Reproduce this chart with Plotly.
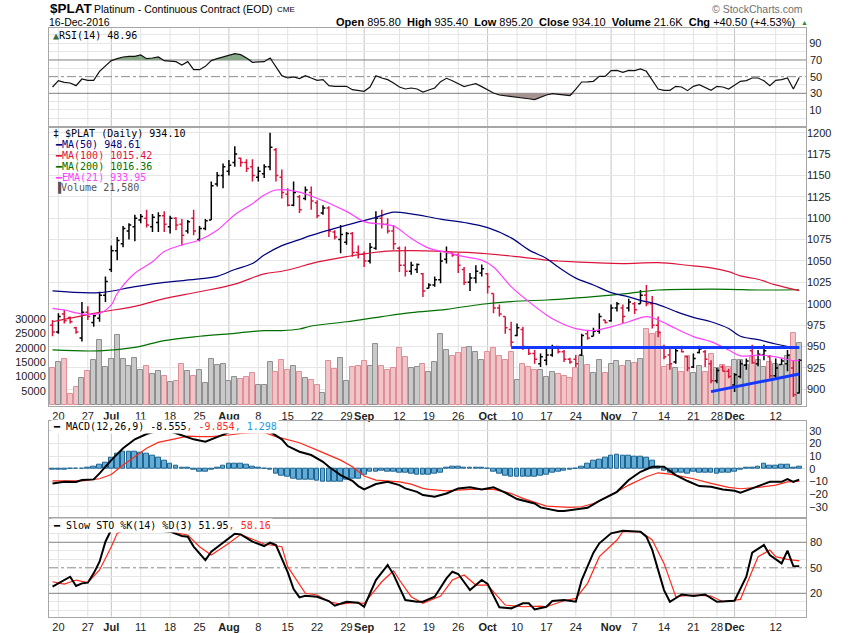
import numpy as np
import pandas as pd
import plotly.graph_objects as go

# ---- calendar -------------------------------------------------------------
HOLIDAYS = ["2016-07-04", "2016-09-05", "2016-11-24"]
TICK_DATES = ["2016-06-20", "2016-06-27", "2016-07-01", "2016-07-11", "2016-07-18",
              "2016-07-25", "2016-08-01", "2016-08-08", "2016-08-15", "2016-08-22",
              "2016-08-29", "2016-09-01", "2016-09-12", "2016-09-19", "2016-09-26",
              "2016-10-03", "2016-10-10", "2016-10-17", "2016-10-24", "2016-11-01",
              "2016-11-07", "2016-11-14", "2016-11-21", "2016-11-28", "2016-12-01",
              "2016-12-12"]
TICK_TEXT = ["20", "27", "Jul", "11", "18", "25", "Aug", "8", "15", "22", "29", "Sep",
             "12", "19", "26", "Oct", "10", "17", "24", "Nov", "7", "14", "21", "28",
             "Dec", "12"]

# ---- price bars (one per trading day) --------------------------------------
opens = [975, 967, 988, 984, 972, 960, 990, 978, 983, 1010, 1040, 1062, 1070, 1085, 1090,
         1098, 1100, 1090, 1095, 1103, 1090, 1100, 1093, 1085, 1100, 1075, 1088, 1098, 1140,
         1150, 1155, 1165, 1170, 1165, 1160, 1148, 1152, 1160, 1180, 1148, 1128, 1115, 1125,
         1123, 1130, 1118, 1106, 1112, 1084, 1075, 1072, 1082, 1060, 1058, 1050, 1065, 1100,
         1093, 1085, 1065, 1045, 1038, 1040, 1035, 1018, 1022, 1028, 1052, 1059, 1057, 1040,
         1025, 1030, 1036, 1035, 1012, 995, 985, 970, 963, 970, 948, 942, 930, 934, 940, 950,
         944, 935, 935, 940, 965, 962, 968, 981, 980, 995, 995, 995, 1000, 1000, 1010, 1000,
         975, 950, 940, 932, 948, 938, 926, 943, 944, 930, 910, 926, 921, 905, 915, 928, 945,
         930, 940, 938, 916, 929, 930, 925, 895.8]
highs = [981, 989, 993, 985, 973, 1002, 997, 987, 1014, 1032, 1068, 1078, 1091, 1094, 1104,
         1105, 1110, 1105, 1107, 1108, 1103, 1101, 1099, 1098, 1110, 1091, 1099, 1143, 1154,
         1164, 1168, 1184, 1171, 1169, 1169, 1160, 1163, 1200, 1182, 1157, 1135, 1143, 1127,
         1137, 1137, 1121, 1115, 1114, 1086, 1092, 1084, 1084, 1068, 1061, 1071, 1108, 1110,
         1100, 1092, 1067, 1067, 1049, 1047, 1036, 1024, 1032, 1060, 1067, 1060, 1059, 1043,
         1036, 1045, 1046, 1036, 1012, 999, 985, 979, 977, 973, 950, 946, 942, 947, 952, 951,
         946, 937, 940, 965, 969, 972, 989, 981, 999, 1002, 999, 1006, 1002, 1016, 1022, 1009,
         985, 952, 950, 950, 951, 939, 942, 951, 946, 934, 925, 928, 924, 919, 934, 936, 952,
         946, 952, 940, 936, 936, 946, 934, 935.4]
lows = [962, 965, 977, 977, 965, 956, 981, 973, 979, 1002, 1037, 1051, 1066, 1075, 1073,
        1094, 1089, 1084, 1084, 1084, 1082, 1086, 1068, 1082, 1080, 1073, 1086, 1098, 1137,
        1135, 1150, 1160, 1160, 1154, 1143, 1143, 1147, 1156, 1143, 1123, 1114, 1114, 1106,
        1121, 1110, 1100, 1104, 1078, 1075, 1059, 1069, 1055, 1053, 1043, 1047, 1063, 1088,
        1082, 1063, 1037, 1032, 1034, 1036, 1008, 1018, 1020, 1024, 1047, 1055, 1036, 1022,
        1015, 1024, 1032, 1012, 989, 985, 965, 950, 962, 946, 940, 930, 926, 928, 938, 942,
        932, 930, 926, 939, 958, 962, 965, 977, 979, 991, 977, 991, 988, 1000, 997, 971, 961,
        935, 923, 930, 943, 921, 925, 942, 926, 907, 907, 921, 913, 897, 913, 923, 930, 927,
        934, 913, 911, 929, 921, 891, 895.2]
closes = [967, 985, 980, 979, 967, 990, 985, 986, 1010, 1026, 1062, 1074, 1088, 1092, 1100,
          1102, 1092, 1101, 1103, 1093, 1100, 1092, 1080, 1096, 1085, 1088, 1097, 1138, 1150,
          1160, 1162, 1175, 1165, 1158, 1150, 1155, 1160, 1183, 1150, 1130, 1115, 1130, 1110,
          1133, 1120, 1103, 1112, 1085, 1078, 1081, 1082, 1060, 1058, 1050, 1066, 1100, 1093,
          1085, 1070, 1045, 1038, 1045, 1046, 1015, 1022, 1028, 1050, 1060, 1057, 1045, 1025,
          1030, 1038, 1041, 1020, 995, 988, 972, 955, 972, 950, 942, 935, 938, 940, 948, 944,
          935, 932, 930, 963, 960, 968, 985, 978, 995, 1000, 985, 1002, 993, 1010, 1000, 975,
          966, 938, 930, 945, 944, 925, 936, 947, 935, 910, 922, 921, 915, 917, 930, 933, 931,
          941, 945, 916, 925, 933, 940, 893.6, 934.1]
volume = [12850, 15000, 16100, 3800, 6300, 9600, 12000, 15800, 22800, 13300, 16100, 24500,
          16100, 13800, 16500, 12300, 13800, 10800, 12000, 10100, 8000, 8400, 14300, 12000,
          10100, 12300, 7700, 16100, 14100, 14300, 8400, 9800, 9100, 9800, 11100, 7000, 7000,
          15200, 11600, 15800, 12300, 13800, 11600, 9340, 8750, 7000, 4080, 15520, 12490,
          16340, 8400, 13420, 13650, 15520, 13650, 21360, 13650, 12250, 12840, 19840, 16690,
          12840, 13180, 14240, 11440, 14940, 24740, 19260, 17150, 18320, 19840, 20420, 18670,
          15750, 18440, 19840, 17150, 15750, 18440, 8750, 14240, 13180, 12250, 12250, 9920,
          11440, 10850, 10150, 9340, 12840, 17150, 14000, 11320, 15750, 11320, 14470, 15520,
          13650, 15400, 14700, 16220, 26490, 24860, 25560, 13420, 14000, 12840, 11670, 17150,
          11320, 13650, 11670, 17860, 12840, 14000, 13420, 15750, 15750, 14000, 16800, 15750,
          13420, 15170, 14470, 14000, 17150, 25320, 21580]
VOLUME_TICKS = [5000, 10000, 15000, 20000, 25000, 30000]

# ---- moving averages (day index, value) ------------------------------------
ma50_day = [0, 8, 14, 19, 25, 28, 31, 34, 36, 39, 42, 44, 50, 55, 58, 61, 66, 70, 74, 78,
            81, 84, 86, 89, 92, 95, 98, 100, 103, 106, 109, 112, 115, 117, 120, 123, 126, 127]
ma50_val = [1015, 1013, 1020, 1025, 1029, 1032, 1040, 1047, 1057, 1068, 1075, 1080, 1092,
            1101, 1107, 1105, 1099, 1095, 1089, 1077, 1063, 1053, 1043, 1030, 1022, 1013,
            1008, 1004, 999, 991, 984, 979, 971, 962, 958, 953, 949, 948.6]
ma100_day = [0, 8, 14, 19, 25, 31, 36, 39, 42, 44, 50, 56, 61, 67, 73, 79, 84, 86, 92, 97,
             103, 108, 112, 115, 117, 120, 123, 127]
ma100_val = [979, 990, 997, 1006, 1014, 1023, 1035, 1038, 1043, 1047, 1055, 1061, 1062, 1061,
             1059, 1055, 1051, 1050, 1048, 1047, 1048, 1045, 1042, 1037.5, 1032.5, 1028.6,
             1022, 1015.4]
ma200_day = [0, 8, 14, 19, 25, 31, 36, 39, 42, 44, 50, 56, 61, 67, 73, 78, 84, 86, 92, 98,
             103, 109, 115, 120, 127]
ma200_val = [946, 945, 949, 957, 962, 965.5, 968.6, 968.6, 970.5, 974, 979, 985, 989.6, 993.5,
             999.4, 1002.5, 1004.4, 1005.2, 1008.3, 1012.2, 1016.1, 1016.9, 1016.9, 1016.1,
             1016.4]
ema21_day = [0, 2, 5, 8, 10, 11, 14, 17, 19, 22, 25, 28, 31, 34, 36, 38, 41, 44, 50, 53, 56,
             58, 61, 64, 67, 70, 73, 75, 78, 81, 84, 86, 89, 92, 95, 98, 101, 103, 106, 109,
             112, 115, 117, 120, 123, 126, 127]
ema21_val = [994.7, 992.7, 988, 988.8, 998.6, 1012, 1035.6, 1049, 1061, 1068.7, 1074.6, 1086,
             1104, 1117, 1127, 1133, 1132, 1126, 1108, 1096, 1093, 1091, 1076.5, 1065, 1060,
             1055, 1051, 1043, 1020, 1002.5, 987, 979, 971, 968.6, 973, 979, 985, 981, 971,
             961.6, 955.7, 946, 939, 940, 938, 933.5, 934]

# hand-drawn trend lines: [day, price, day, price]
support_line = [78, 949, 127, 949]
rising_line = [112, 897.3, 127, 917.9]

# ---- RSI(14), one per day ---------------------------------------------------
rsi = [37.6, 45.2, 43.2, 42.4, 39.2, 47.2, 45.6, 45.6, 56.4, 62.4, 69.2, 71.6, 73.6, 74.4,
       74.4, 76, 71.6, 72.4, 73.6, 69.2, 68.8, 68, 64, 68, 58.4, 58.4, 62.4, 69.2, 71.6,
       73.6, 76.4, 77.6, 76.4, 72.4, 67.2, 67.2, 68, 72.4, 62.4, 51.2, 48.4, 49.6, 47.6,
       51.2, 48.4, 45.6, 46.4, 39.2, 38.4, 38.4, 38.4, 34.4, 33.6, 32.4, 37.6, 51.2, 48.4,
       46.4, 42.4, 37.6, 35.2, 36.4, 35.2, 31.6, 34, 36.4, 44, 48, 45, 41, 38, 40, 41.6, 38,
       34, 30.4, 28, 27.2, 26.6, 26, 24.4, 23.5, 22.4, 25.6, 28, 29.6, 28.6, 28, 27.2, 35,
       43.6, 43.8, 44.4, 50.4, 50.4, 57.2, 57.6, 55.2, 57.6, 57.2, 59.2, 56.4, 46, 35.2,
       33.6, 33.6, 38.4, 37.6, 33.2, 38.4, 40.4, 37, 33.6, 38.4, 37.6, 35.2, 40, 44.4, 45.2,
       48.4, 48.4, 45, 39.2, 45.6, 46.4, 48.4, 35.2, 48.96]

# ---- MACD(12,26,9) -----------------------------------------------------------
macd_day = [0, 2, 4, 5, 7, 8, 10, 12, 14, 16, 17, 19, 21, 24, 26, 28, 30, 33, 35, 37, 39,
            40, 42, 44, 46, 47, 49, 51, 52, 53, 55, 57, 59, 60, 62, 63, 65, 67, 69, 71, 73,
            75, 77, 79, 82, 83, 86, 87, 89, 91, 93, 96, 98, 100, 102, 104, 106, 108, 110, 112,
            114, 116, 117, 119, 121, 122, 124, 125, 126, 127]
macd_val = [-11.6, -10.3, -10.5, -8.9, -8.4, -3.7, 6.8, 16.1, 23.2, 27.4, 28.7, 31, 28, 23.2,
            21.3, 24.7, 28.7, 31, 31, 29.2, 23.2, 17.9, 13.4, 10.8, 5.5, 1.6, -5, -9.5,
            -13.7, -16.3, -12.1, -10.3, -12.9, -15.5, -18.2, -20.8, -22.1, -19.5, -15.5,
            -14.7, -16.3, -14.7, -18.9, -23.9, -27.4, -30.5, -33.4, -33.4, -32.1, -30.8,
            -25.3, -18.2, -8.9, -2.4, 1.6, 1.6, -5, -9.7, -13.7, -14.2, -16.3, -17.4, -18.9,
            -15.5, -12.4, -10.3, -10.3, -8.2, -10.3, -8.555]
signal_day = [0, 5, 8, 10, 12, 14, 16, 18, 21, 23, 25, 27, 30, 32, 34, 36, 38, 42, 45, 49,
              51, 53, 55, 57, 59, 61, 63, 64, 67, 71, 75, 78, 80, 84, 88, 90, 92, 95, 98, 101,
              103, 105, 109, 112, 115, 117, 120, 123, 125, 127]
signal_val = [-9.5, -9.5, -7.9, -4.5, 3, 9.5, 16.1, 20.8, 23.9, 25.8, 25.3, 25.3, 26.6, 27.9,
              28.5, 28.7, 25.3, 20.5, 14.7, 6.8, 1.6, -5.8, -9, -9.7, -10.3, -12.1, -15.5,
              -16.3, -17.4, -16.3, -16.3, -19.5, -23.4, -29.5, -30.5, -30, -27.4, -20.8,
              -12.9, -6.3, -3.2, -4.2, -7.9, -11.6, -14.7, -15.8, -14.7, -12.9, -10.3, -9.854]
macd_hist = [-1, -0.8, -0.5, -0.3, -0.3, -0.3, 0.5, 1.6, 3.5, 5, 9, 12, 13.5, 13.5, 13.5, 13,
             11.5, 10.5, 9, 6.5, 4, 2.5, 1, 0.5, -1, -2, -2.5, -1, 0.5, 2.5, 4, 4.2, 4, 3.5, 2,
             0.5, 0, -1, -4, -5.5, -6.5, -7.5, -8.5, -9, -9, -9.5, -10, -10, -10.5, -10, -9,
             -8, -7.5, -5, -2.5, -2, -1.5, -2, -2.5, -3, -3.5, -4, -4.5, -4.5, -5, -4, -3, 1,
             2, 2, 0.5, 0.5, 0.5, 1, 0, -2, -4, -5.5, -6, -6.3, -6.5, -6.3, -6, -5.5, -5,
             -3.5, -2.5, -1.5, -1, 0, 1.5, 4, 6, 7.5, 8.5, 10, 10.8, 10.3, 10, 9.5, 9.3, 8.5,
             6, 1.5, -1.5, -3, -3.5, -3.5, -4, -2.5, -3.5, -3.5, -3.5, -4, -3, -3, -2.5, -0.5,
             0.5, 1, 2, 3.8, 2.5, 2.5, 3.2, 3.3, 0.5, 1.3]

# ---- Slow stochastic ---------------------------------------------------------
k_day = [0, 1, 3, 4, 5, 6, 7, 8, 9, 10, 12, 15, 18, 20, 22, 23, 24, 26, 27, 30, 31, 32, 34,
         36, 37, 38, 40, 41, 42, 43, 45, 47, 48, 50, 52, 53, 55, 57, 58, 59, 60, 62, 63, 65,
         67, 68, 69, 71, 73, 74, 76, 78, 80, 81, 82, 84, 85, 87, 89, 90, 92, 93, 95, 97, 99,
         100, 101, 102, 104, 105, 107, 109, 111, 112, 113, 116, 118, 119, 121, 122, 124, 125,
         126, 127]
k_val = [27.8, 31.7, 39.5, 28.6, 31.7, 32.5, 43.5, 57.2, 80.7, 95, 98, 96, 94, 92.5, 87.4,
         86.6, 75, 59.1, 69, 84.6, 90, 89.3, 80.7, 75.6, 79.5, 76.8, 45, 25, 15.2, 17.2, 16,
         10.9, 5.4, 10.1, 9, 4.2, 35.6, 53.3, 42, 27, 12.1, 10.1, 10.1, 16, 37.6, 45.4, 42.7,
         23.8, 35.6, 30.9, 3.5, 2.3, 8.2, 8.2, 1.1, 4.2, 10.9, 12.1, 10.1, 35.6, 67.8, 78.8,
         90.5, 93.6, 92.5, 92.5, 86.6, 71, 23.8, 10.1, 18.7, 16.8, 18.7, 14, 10.1, 11.3,
         39.5, 67.8, 76.8, 65, 55.2, 70.1, 52.1, 51.95]
d_day = [0, 2, 4, 6, 8, 10, 11, 13, 16, 20, 23, 25, 27, 30, 32, 34, 36, 39, 40, 43, 45, 47,
         49, 51, 53, 56, 58, 59, 61, 63, 66, 68, 70, 72, 74, 77, 80, 83, 84, 87, 89, 91, 93,
         96, 97, 100, 102, 104, 106, 109, 112, 114, 117, 118, 120, 122, 123, 125, 127]
d_val = [33.6, 30.9, 35.6, 32.5, 47.4, 74.8, 90.5, 97, 97, 91.7, 88.6, 74.8, 65, 78.8, 89.3,
         83.5, 78, 74.8, 51.3, 20, 18, 10.1, 7.4, 9, 8.2, 33.6, 46.6, 35.6, 16, 8.2, 16.8,
         35.6, 41.5, 29.7, 29.7, 6.2, 4.2, 5, 4.2, 11.3, 14, 31.7, 63.1, 82.7, 92.5, 92.5,
         82.7, 55.2, 16, 18, 16.8, 10.1, 12.9, 29.7, 63.1, 70.9, 63.1, 59.9, 58.16]

MONO = "DejaVu Sans Mono"
SANS = "Liberation Sans"
UP_BAR, DOWN_BAR = "#000000", "#dc143c"
X_RANGE = [-0.6, 128.15]

days = pd.bdate_range("2016-06-17", "2016-12-16")
days = days[~days.isin(pd.to_datetime(HOLIDAYS))]
idx = np.arange(len(days))
tick_pos = [days.get_loc(pd.Timestamp(d)) for d in TICK_DATES]
tick_lbl = [f"<b>{t}</b>" if t.isalpha() else t for t in TICK_TEXT]
week_pos = [p for p, t in zip(tick_pos, TICK_TEXT) if not t.isalpha()]
month_pos = [p for p, t in zip(tick_pos, TICK_TEXT) if t.isalpha()]

c = np.array(closes)
up = np.r_[False, c[1:] > c[:-1]]

fig = go.Figure()

# RSI panel
rsi_arr = np.array(rsi)
fig.add_trace(go.Scatter(x=idx, y=[70] * len(idx), mode="lines", line=dict(width=0),
                         xaxis="x", yaxis="y", hoverinfo="skip"))
fig.add_trace(go.Scatter(x=idx, y=np.maximum(rsi_arr, 70), mode="lines", line=dict(width=0),
                         fill="tonexty", fillcolor="#86a886", xaxis="x", yaxis="y"))
fig.add_trace(go.Scatter(x=idx, y=[30] * len(idx), mode="lines", line=dict(width=0),
                         xaxis="x", yaxis="y", hoverinfo="skip"))
fig.add_trace(go.Scatter(x=idx, y=np.minimum(rsi_arr, 30), mode="lines", line=dict(width=0),
                         fill="tonexty", fillcolor="#a89393", xaxis="x", yaxis="y"))
fig.add_trace(go.Scatter(x=idx, y=rsi_arr, mode="lines", line=dict(color="#111", width=1.2),
                         xaxis="x", yaxis="y"))

# volume under the price bars
fig.add_trace(go.Bar(x=idx, y=volume, width=0.85, xaxis="x2", yaxis="y2",
                     marker=dict(color=np.where(up, "#c9c9c9", "#f1c4c8"),
                                 line=dict(color=np.where(up, "#8f8f8f", "#de8f97"), width=1))))

# moving averages
for xs, ys, col in [(ma200_day, ma200_val, "#007000"), (ma100_day, ma100_val, "#dc143c"),
                    (ma50_day, ma50_val, "#000080"), (ema21_day, ema21_val, "#ff40ff")]:
    fig.add_trace(go.Scatter(x=xs, y=ys, mode="lines", line=dict(color=col, width=1.2,
                                                                    shape="spline"),
                             xaxis="x2", yaxis="y3"))

# OHLC bars, coloured by close against the previous close
o, h, l = np.array(opens), np.array(highs), np.array(lows)
for mask, col in [(up, UP_BAR), (~up, DOWN_BAR)]:
    fig.add_trace(go.Ohlc(x=idx[mask], open=o[mask], high=h[mask], low=l[mask], close=c[mask],
                          increasing_line_color=col, decreasing_line_color=col,
                          line=dict(width=1.5), tickwidth=0.4, xaxis="x2", yaxis="y3"))

# MACD panel
fig.add_trace(go.Bar(x=idx, y=macd_hist, width=0.8, xaxis="x3", yaxis="y4",
                     marker=dict(color="#62acd6", line=dict(color="#1f6490", width=1))))
fig.add_trace(go.Scatter(x=signal_day, y=signal_val, mode="lines",
                         line=dict(color="#ff2a1a", width=1.2), xaxis="x3", yaxis="y4"))
fig.add_trace(go.Scatter(x=macd_day, y=macd_val, mode="lines",
                         line=dict(color="#000", width=2), xaxis="x3", yaxis="y4"))

# stochastic panel
fig.add_trace(go.Scatter(x=d_day, y=d_val, mode="lines", line=dict(color="#ff2a1a", width=1.2),
                         xaxis="x4", yaxis="y5"))
fig.add_trace(go.Scatter(x=k_day, y=k_val, mode="lines", line=dict(color="#000", width=2),
                         xaxis="x4", yaxis="y5"))

H = 633.0


def dom(top, bottom):
    return [1 - bottom / H, 1 - top / H]


# vertical grid is drawn as shapes so month lines can be darker
xbase = dict(range=X_RANGE, tickmode="array", tickvals=tick_pos, ticktext=tick_lbl,
             tickangle=0, showgrid=False, showline=True, linecolor="#a6a6a6",
             mirror=True, zeroline=False, ticks="", fixedrange=True, automargin=False,
             tickfont=dict(family=SANS, size=11, color="#222"))
ybase = dict(showgrid=True, gridcolor="#e6e6e6", showline=True, linecolor="#a6a6a6",
             mirror=True, zeroline=False, ticks="", side="right", fixedrange=True,
             automargin=False, tickfont=dict(family=SANS, size=11, color="#222"))

tens = list(range(0, 101, 10))
fig.update_layout(
    width=850, height=633, margin=dict(l=49, r=44, t=0, b=0, autoexpand=False),
    paper_bgcolor="white", plot_bgcolor="white", showlegend=False, bargap=0,
    xaxis=dict(xbase, anchor="y", showticklabels=False),
    xaxis2=dict(xbase, anchor="y2", rangeslider=dict(visible=False)),
    xaxis3=dict(xbase, anchor="y4", showticklabels=False),
    xaxis4=dict(xbase, anchor="y5"),
    yaxis=dict(ybase, domain=dom(28.3, 127), range=[-10.4, 108], tickmode="array",
               tickvals=[v for v in tens if v not in (30, 50, 70)],
               ticktext=[str(v) if v in (10, 90) else "" for v in tens if v not in (30, 50, 70)]),
    yaxis2=dict(ybase, domain=dom(127, 406), range=[-350, 97330], side="left", showgrid=False,
                tickmode="array", tickvals=VOLUME_TICKS,
                ticktext=[str(v) for v in VOLUME_TICKS], anchor="x2"),
    yaxis3=dict(ybase, overlaying="y2", anchor="x2", range=[880.5, 1206.6], dtick=25,
                tick0=900, showline=False),
    yaxis4=dict(ybase, domain=dom(420.7, 518.3), range=[-39.1, 37.9], tickmode="array",
                tickvals=[-30, -20, -10, 0, 10, 20, 30], anchor="x3"),
    yaxis5=dict(ybase, domain=dom(518.3, 616.7), range=[-7.5, 108.2], tickmode="array",
                tickvals=[v for v in tens if v not in (20, 50, 80)],
                ticktext=["" for v in tens if v not in (20, 50, 80)], anchor="x4"),
)

for xr, yr in [("x", "y domain"), ("x2", "y2 domain"), ("x3", "y4 domain"), ("x4", "y5 domain")]:
    for p in week_pos:
        fig.add_shape(type="line", xref=xr, yref=yr, x0=p, x1=p, y0=0, y1=1,
                      line=dict(color="#e2e2e2", width=1), layer="below")
    for p in month_pos:
        fig.add_shape(type="line", xref=xr, yref=yr, x0=p, x1=p, y0=0, y1=1,
                      line=dict(color="#c4c4c4", width=1), layer="below")

# overbought / oversold guides, with their labels
for xr, yr, lo, hi in [("x", "y", 30, 70), ("x4", "y5", 20, 80)]:
    for v in (lo, hi):
        fig.add_shape(type="line", xref=xr, yref=yr, x0=X_RANGE[0], x1=X_RANGE[1], y0=v, y1=v,
                      line=dict(color="#808080", width=1), layer="below")
    fig.add_shape(type="line", xref=xr, yref=yr, x0=X_RANGE[0], x1=X_RANGE[1], y0=50, y1=50,
                  line=dict(color="#8c8c8c", width=1, dash="dashdot"), layer="below")
    for v in (lo, 50, hi):
        fig.add_annotation(text=str(v), xref=xr + " domain", yref=yr, x=1, y=v,
                           xanchor="left", xshift=2, showarrow=False,
                           font=dict(family=SANS, size=11, color="#222"))

for ln in (support_line, rising_line):
    fig.add_shape(type="line", xref="x2", yref="y3", x0=ln[0], y0=ln[1], x1=ln[2], y1=ln[3],
                  line=dict(color="#1438ff", width=3), layer="above")


def note(text, x, y, size=10, color="#000", family=MONO, anchor="left", bg=None):
    fig.add_annotation(text=text, xref="paper", yref="paper", x=(x - 49) / 757.0,
                       y=1 - y / H, xanchor=anchor, yanchor="middle", showarrow=False,
                       font=dict(family=family, size=size, color=color),
                       bgcolor=bg, borderpad=1)


# header
note("<b>$PLAT</b>", 47.5, 8.5, size=13.5, family=SANS)
note("Platinum - Continuous Contract (EOD)", 91.5, 9, size=10.5, family=SANS)
note("CME", 275, 9.5, size=8, family=SANS)
note("16-Dec-2016", 46.5, 22.5, size=10.5, family=SANS)
note("© StockCharts.com", 805, 9.5, size=10.5, family=SANS, color="#6f6f6f", anchor="right")
note("<b>Open</b> 895.80  <b>High</b> 935.40  <b>Low</b> 895.20  <b>Close</b> 934.10  "
     "<b>Volume</b> 21.6K  <b>Chg</b> +40.50 (+4.53%)", 797, 22.5, size=11, family=SANS,
     anchor="right")
note("▲", 799, 22.5, size=7, color="#2e8b2e", family=SANS)

# panel legends
note("<span style='color:#3d6b3d'>▲</span>RSI(14) 48.96", 51, 35.5)
note("‡ $PLAT (Daily) 934.10", 51, 133.3)
note("━MA(50) 948.61", 53, 144.3, color="#000080")
note("━MA(100) 1015.42", 53, 155.7, color="#dc143c")
note("━MA(200) 1016.36", 53, 166.7, color="#007000")
note("━EMA(21) 933.95", 53, 177.3, color="#ff40ff")
note("▐Volume 21,580", 53, 187.7, color="#555555")
note("━ MACD(12,26,9) -8.555<span style='color:#ff2a1a'>, -9.854</span>"
     "<span style='color:#1e9be0'>, 1.298</span>", 51, 426.7, bg="white")
note("━ Slow STO %K(14) %D(3) 51.95<span style='color:#ff2a1a'>, 58.16</span>", 51, 525.7,
     bg="white")

# drop the default page margin so the chart sits at the window's corner
fig.write_html("out.html", config={"displayModeBar": False},
               post_script="document.body.style.margin = '0';")
